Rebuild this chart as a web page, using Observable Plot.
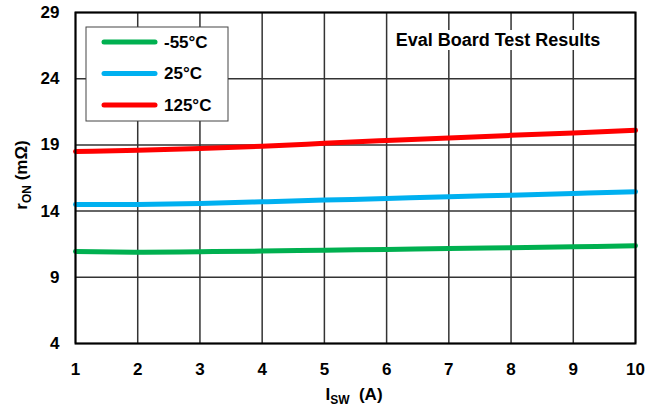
<!DOCTYPE html>
<html><head><meta charset="utf-8">
<script src="https://cdn.jsdelivr.net/npm/d3@7"></script>
<script src="https://cdn.jsdelivr.net/npm/@observablehq/plot@0.6"></script>
<style>body{margin:0;background:#fff;} svg{font-family:Arial,"Liberation Sans",sans-serif;}</style>
</head><body><div id="chart"></div>
<script>
const current = [1, 2, 3, 4, 5, 6, 7, 8, 9, 10];
const rMinus55 = [10.95, 10.9, 10.93, 10.98, 11.05, 11.1, 11.17, 11.23, 11.3, 11.38];
const r25 = [14.5, 14.5, 14.57, 14.7, 14.83, 14.95, 15.08, 15.2, 15.33, 15.47];
const r125 = [18.5, 18.6, 18.73, 18.9, 19.12, 19.33, 19.53, 19.72, 19.9, 20.1];
const seriesNames = ["-55°C", "25°C", "125°C"];
const seriesColors = ["#00B050", "#00B0F0", "#FF0000"];
const xTicks = [1, 2, 3, 4, 5, 6, 7, 8, 9, 10];
const yTicks = [4, 9, 14, 19, 24, 29];

const rows = [];
[rMinus55, r25, r125].forEach((vals, i) => vals.forEach((v, j) => rows.push({s: seriesNames[i], x: current[j], y: v})));

const ff = "Arial, 'Liberation Sans', sans-serif";
const chart = Plot.plot({
  width: 657, height: 409,
  marginLeft: 75, marginRight: 22, marginTop: 12, marginBottom: 66,
  style: {fontFamily: ff, background: "white", overflow: "visible"},
  x: {domain: [1, 10]},
  y: {domain: [4, 29]},
  color: {domain: seriesNames, range: seriesColors},
  marks: [
    Plot.gridX(xTicks, {stroke: "#333", strokeOpacity: 1, strokeWidth: 1.5}),
    Plot.gridY(yTicks, {stroke: "#333", strokeOpacity: 1, strokeWidth: 1.5}),
    Plot.axisX(xTicks, {tickSize: 0, tickPadding: 19, label: null, fontSize: 17, fontWeight: "bold", fill: "black"}),
    Plot.axisY(yTicks, {tickSize: 0, tickPadding: 16, label: null, fontSize: 17, fontWeight: "bold", fill: "black"}),
    Plot.line(rows, {x: "x", y: "y", stroke: "s", z: "s", strokeWidth: 5, curve: "natural"}),
    Plot.frame({stroke: "black", strokeWidth: 2})
  ]
});
document.getElementById("chart").appendChild(chart);

const svg = d3.select(chart);
const linesG = svg.selectAll("g[aria-label='line']").node();
// legend box
const lg = svg.append("g").attr("text-anchor", "start");
lg.append("rect").attr("x", 86).attr("y", 27).attr("width", 142).attr("height", 94)
  .attr("fill", "white").attr("stroke", "#444").attr("stroke-width", 1);
seriesNames.forEach((n, i) => {
  const y = 42 + i * 31.5;
  lg.append("line").attr("x1", 104).attr("x2", 155).attr("y1", y).attr("y2", y)
    .attr("stroke", seriesColors[i]).attr("stroke-width", 5).attr("stroke-linecap", "round");
  lg.append("text").attr("x", 164).attr("y", y).attr("dy", "0.35em")
    .attr("font-size", 17).attr("font-weight", "bold").attr("fill", "black").text(n);
});
chart.insertBefore(lg.node(), linesG);

// title with white background
const tg = svg.append("g");
tg.append("rect").attr("x", 390).attr("y", 30).attr("width", 216).attr("height", 20).attr("fill", "white");
tg.append("text").attr("x", 498).attr("y", 40).attr("dy", "0.35em").attr("text-anchor", "middle")
  .attr("font-size", 18).attr("font-weight", "bold").attr("fill", "black").text("Eval Board Test Results");
chart.insertBefore(tg.node(), linesG);

// axis labels with subscripts
const xl = svg.append("text").attr("x", 354).attr("y", 394).attr("dy", "0.35em").attr("text-anchor", "middle")
  .attr("font-size", 17).attr("font-weight", "bold").attr("fill", "black");
xl.append("tspan").text("I");
xl.append("tspan").attr("font-size", 12).attr("dy", 4).text("SW");
xl.append("tspan").attr("dy", -4).attr("xml:space", "preserve").text("  (A)");

const yl = svg.append("text").attr("transform", "translate(21,175) rotate(-90)").attr("dy", "0.35em")
  .attr("text-anchor", "middle").attr("font-size", 17).attr("font-weight", "bold").attr("fill", "black");
yl.append("tspan").text("r");
yl.append("tspan").attr("font-size", 12).attr("dy", 4).text("ON");
yl.append("tspan").attr("dy", -4).text(" (mΩ)");
</script></body></html>
